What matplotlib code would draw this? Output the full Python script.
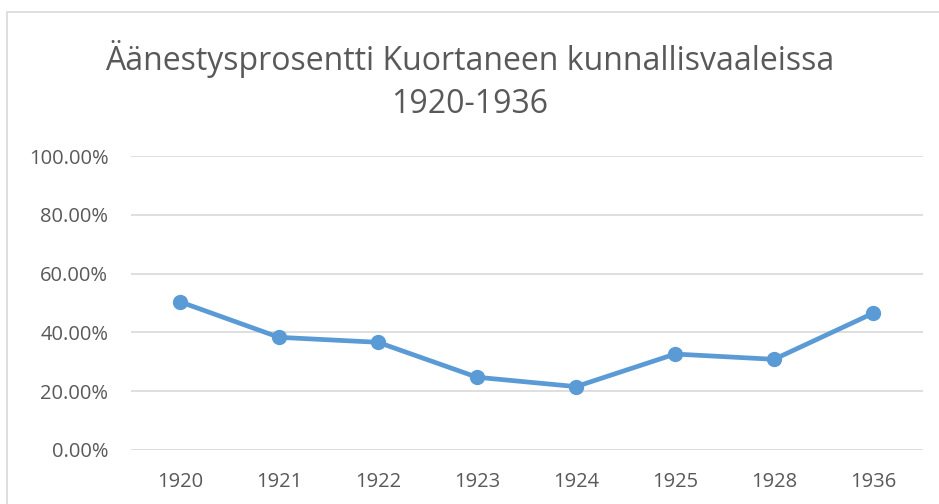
import matplotlib.pyplot as plt
from matplotlib.patches import Rectangle
from matplotlib.ticker import PercentFormatter

years = ["1920", "1921", "1922", "1923", "1924", "1925", "1928", "1936"]
turnout = [50.4, 38.3, 36.6, 24.7, 21.5, 32.6, 30.8, 46.5]  # percent
yticks = [0, 20, 40, 60, 80, 100]
title1 = "Äänestysprosentti Kuortaneen kunnallisvaaleissa"
title2 = "1920-1936"

plt.rcParams['font.family'] = ['Open Sans', 'DejaVu Sans']
gray = "#595959"

fig = plt.figure(figsize=(9.39, 5.04), dpi=100)
ax = fig.add_axes([0.139, 0.1077, 0.8435, 0.5823])

# chart area border
fig.patches.append(Rectangle((7 / 939, -0.1), 1.2, 1 - 12 / 504 + 0.1, transform=fig.transFigure,
                             fill=False, edgecolor="#d9d9d9", linewidth=1.2))

x = range(len(years))
ax.plot(x, turnout, color="#5B9BD5", linewidth=3.4, marker="o", markersize=10,
        solid_capstyle="round", zorder=3)

ax.set_xlim(-0.5, len(years) - 0.5)
ax.set_ylim(0, 100)
ax.set_xticks(list(x))
ax.set_xticklabels(years)
ax.set_yticks(yticks)
ax.yaxis.set_major_formatter(PercentFormatter(100, decimals=2))
ax.grid(axis="y", color="#d9d9d9", linewidth=1.2)
ax.set_axisbelow(True)
for s in ax.spines.values():
    s.set_visible(False)
ax.tick_params(length=0, labelsize=14.5, colors=gray)
ax.tick_params(axis="x", pad=16)
ax.tick_params(axis="y", pad=16)

fig.text(0.5, 0.862, title1, ha="center", va="baseline", fontsize=23, color=gray)
fig.text(0.5, 0.775, title2, ha="center", va="baseline", fontsize=23, color=gray)

fig.savefig("out.png", dpi=100)
